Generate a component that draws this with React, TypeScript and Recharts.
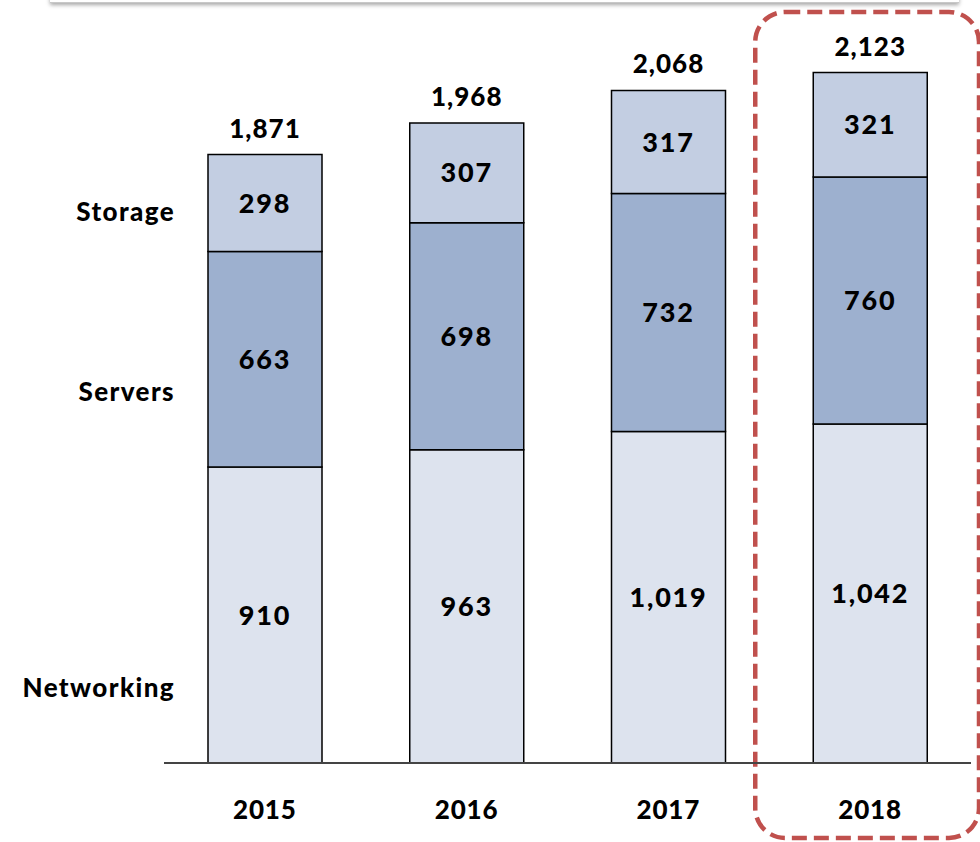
import React from "react";
import {
  BarChart,
  Bar,
  XAxis,
  YAxis,
  LabelList,
  ReferenceArea,
} from "recharts";

const years = ["2015", "2016", "2017", "2018"];
const networking = [910, 963, 1019, 1042];
const servers = [663, 698, 732, 760];
const storage = [298, 307, 317, 321];
const totals = [1871, 1968, 2068, 2123];

// row labels on the left, placed at a value inside each segment band
const rowLabels = [
  { name: "Networking", at: 231 },
  { name: "Servers", at: 1141 },
  { name: "Storage", at: 1695 },
];

const data = years.map((year, i) => ({
  year,
  networking: networking[i],
  servers: servers[i],
  storage: storage[i],
  total: totals[i],
}));

const FONT = "Lato, 'Open Sans', sans-serif";
const fmt = (v: number) => Number(v).toLocaleString("en-US");

const segLabel = {
  fill: "#000",
  fontSize: 27,
  fontWeight: 900,
  letterSpacing: 1.8,
  fontFamily: FONT,
};

function HighlightBox(props: any) {
  const { x, y, width, height } = props;
  return (
    <rect
      x={x - 14}
      y={y - 3}
      width={width + 22}
      height={height + 78}
      rx={30}
      ry={30}
      fill="none"
      stroke="#c0504d"
      strokeWidth={4.5}
      strokeDasharray="15 7"
    />
  );
}

export default function App() {
  return (
    <div
      style={{
        position: "absolute",
        left: 0,
        top: 0,
        width: 980,
        height: 842,
        background: "#fff",
        overflow: "hidden",
      }}
    >
      <div
        style={{
          position: "absolute",
          left: 50,
          top: -12,
          width: 909,
          height: 14,
          borderBottom: "1px solid #c8c8c8",
          boxShadow: "0 2px 4px rgba(0,0,0,0.35)",
        }}
      />
      <BarChart
        width={980}
        height={842}
        data={data}
        margin={{ top: 15, right: 9, bottom: 0, left: 0 }}
        barSize={114}
        style={{ fontFamily: FONT }}
      >
        <ReferenceArea
          x1="2018"
          x2="2018"
          ifOverflow="visible"
          shape={HighlightBox}
        />
        <XAxis
          dataKey="year"
          height={79}
          tickLine={false}
          axisLine={{ stroke: "#444", strokeWidth: 2 }}
          tickMargin={32}
          tick={{ fill: "#000", fontSize: 26, fontWeight: 900, letterSpacing: 0.8 }}
        />
        <YAxis
          type="number"
          domain={[0, 2300]}
          width={164}
          ticks={rowLabels.map((r) => r.at)}
          tickFormatter={(v: number) =>
            rowLabels.find((r) => r.at === v)?.name ?? ""
          }
          axisLine={false}
          tickLine={false}
          tick={{
            fill: "#000",
            fontSize: 26,
            fontWeight: 900,
            letterSpacing: 1.4,
            dx: 19,
          }}
        />
        <Bar
          dataKey="networking"
          stackId="a"
          fill="#dde3ee"
          stroke="#000"
          strokeWidth={1.5}
          isAnimationActive={false}
        >
          <LabelList
            dataKey="networking"
            position="center"
            formatter={fmt}
            style={segLabel}
          />
        </Bar>
        <Bar
          dataKey="servers"
          stackId="a"
          fill="#9db0cf"
          stroke="#000"
          strokeWidth={1.5}
          isAnimationActive={false}
        >
          <LabelList
            dataKey="servers"
            position="center"
            formatter={fmt}
            style={segLabel}
          />
        </Bar>
        <Bar
          dataKey="storage"
          stackId="a"
          fill="#c3cee2"
          stroke="#000"
          strokeWidth={1.5}
          isAnimationActive={false}
        >
          <LabelList
            dataKey="storage"
            position="center"
            formatter={fmt}
            style={segLabel}
          />
          <LabelList
            dataKey="total"
            position="top"
            offset={17}
            formatter={fmt}
            style={{ ...segLabel, fontSize: 26, letterSpacing: 1 }}
          />
        </Bar>
      </BarChart>
    </div>
  );
}
